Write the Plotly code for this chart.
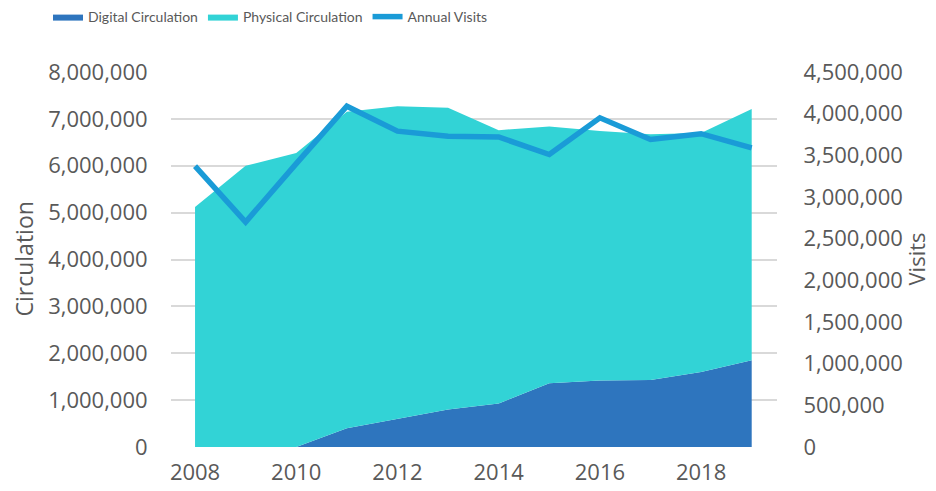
import plotly.graph_objects as go

years = [2008, 2009, 2010, 2011, 2012, 2013, 2014, 2015, 2016, 2017, 2018, 2019]
digital = [0, 0, 0, 400000, 600000, 800000, 930000, 1360000, 1420000, 1430000, 1600000, 1850000]
physical = [5120000, 6000000, 6270000, 6750000, 6670000, 6440000, 5830000, 5480000, 5320000, 5240000, 5100000, 5360000]
visits = [3370000, 2700000, 3400000, 4090000, 3790000, 3730000, 3720000, 3510000, 3950000, 3690000, 3760000, 3590000]

left_ticks = list(range(0, 8000001, 1000000))
right_ticks = list(range(0, 4500001, 500000))

FONT = "Open Sans"
GREY = "#595959"
W, H = 928, 483          # page shows the figure with an 8px offset
L, R, T, B = 163, 159, 64, 44
PW = W - L - R

fig = go.Figure()
fig.add_trace(go.Scatter(x=years, y=digital, name="Digital Circulation", stackgroup="c",
                         mode="lines", line=dict(width=0, color="#2E75BE"),
                         fillcolor="#2E75BE"))
fig.add_trace(go.Scatter(x=years, y=physical, name="Physical Circulation", stackgroup="c",
                         mode="lines", line=dict(width=0, color="#32D3D6"),
                         fillcolor="#32D3D6"))
fig.add_trace(go.Scatter(x=years, y=visits, name="Annual Visits", yaxis="y2",
                         mode="lines", line=dict(width=5.5, color="#1A9BD7")))

fig.update_layout(
    width=W, height=H,
    margin=dict(l=L, r=R, t=T, b=B, autoexpand=False),
    paper_bgcolor="white", plot_bgcolor="white",
    font=dict(family=FONT, color=GREY, size=22),
    showlegend=True,
    legend=dict(orientation="h", xref="container", yref="container",
                x=40 / W, y=1 - 9 / H, xanchor="left", yanchor="middle",
                font=dict(family="Lato", size=14, color=GREY),
                itemwidth=30, traceorder="normal"),
    xaxis=dict(range=[2007.525, 2019.5], tickmode="array",
               tickvals=[2008, 2010, 2012, 2014, 2016, 2018],
               ticktext=["2008", "2010", "2012", "2014", "2016", "2018"],
               showgrid=False, zeroline=False, showline=False,
               ticks="outside", ticklen=6, tickcolor="rgba(0,0,0,0)",
               tickfont=dict(size=22, color=GREY)),
    yaxis=dict(range=[0, 8000000], tickmode="array", tickvals=left_ticks,
               ticktext=[f"{v:,}" for v in left_ticks],
               showgrid=True, gridcolor="#D9D9D9", gridwidth=1.5,
               zeroline=False, showline=False,
               ticks="outside", ticklen=18, tickcolor="rgba(0,0,0,0)",
               tickfont=dict(size=22, color=GREY)),
    yaxis2=dict(range=[0, 4500000], overlaying="y", side="right",
                tickmode="array", tickvals=right_ticks,
                ticktext=[f"{v:,}" for v in right_ticks],
                showgrid=False, zeroline=False, showline=False,
                ticks="outside", ticklen=21, tickcolor="rgba(0,0,0,0)",
                tickfont=dict(size=22, color=GREY)),
    annotations=[
        dict(text="Circulation", textangle=-90, xref="paper", yref="paper",
             x=(15 - L) / PW, y=0.5, xanchor="center", yanchor="middle",
             showarrow=False, font=dict(size=23, color=GREY, family=FONT)),
        dict(text="Visits", textangle=-90, xref="paper", yref="paper",
             x=(907 - L) / PW, y=0.5, xanchor="center", yanchor="middle",
             showarrow=False, font=dict(size=22, color=GREY, family=FONT)),
    ],
)

fig.write_html("out.html")
